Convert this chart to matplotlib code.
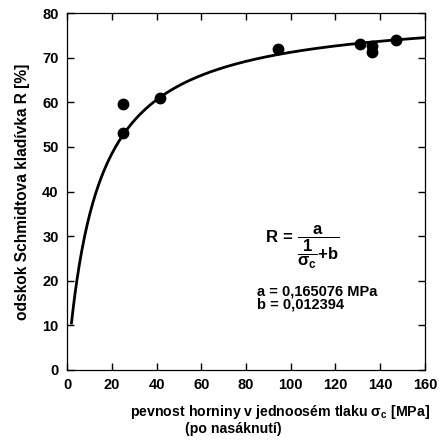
import numpy as np
import matplotlib
matplotlib.use("Agg")
import matplotlib.pyplot as plt

plt.rcParams['font.family'] = ['Liberation Sans', 'DejaVu Sans']
plt.rcParams['font.weight'] = 'bold'
plt.rcParams['mathtext.fontset'] = 'custom'
plt.rcParams['mathtext.rm'] = 'Liberation Sans:bold'
plt.rcParams['mathtext.bf'] = 'Liberation Sans:bold'
plt.rcParams['mathtext.it'] = 'Liberation Sans:bold'

# namerene body
sigma_c = [25, 25, 41.5, 94.5, 131, 136.5, 136.5, 147]
odskok = [59.5, 53, 61, 72, 73, 72.5, 71.3, 74]

# parametry regrese (z grafu)
a = 0.165076
b = 0.012394
x_start, x_end = 2, 160

x_fit = np.linspace(x_start, x_end, 400)
y_fit = 1 / (a / x_fit + b)

fig = plt.figure(figsize=(4.42, 4.41), dpi=100)
ax = fig.add_axes([0.1516, 0.161, 0.8099, 0.8095])

ax.plot(x_fit, y_fit, color='black', lw=2.0)
ax.plot(sigma_c, odskok, 'o', color='black', markersize=7.5)

ax.set_xlim(0, 160)
ax.set_ylim(0, 80)
ax.set_xticks(np.arange(0, 161, 20))
ax.set_yticks(np.arange(0, 81, 10))
ax.tick_params(direction='in', length=5, width=1, top=True, right=True,
               labelsize=10.5, pad=6)
for lab in ax.get_xticklabels() + ax.get_yticklabels():
    lab.set_fontweight('bold')
for s in ax.spines.values():
    s.set_linewidth(0.9)

# popisky os (druhy radek neni vycentrovany pod prvnim)
ax.text(0.595, -0.118, 'pevnost horniny v jednoosém tlaku $\\sigma_\\mathbf{c}$ [MPa]',
        transform=ax.transAxes, fontsize=10.2, fontweight='bold',
        ha='center', va='center')
ax.text(0.464, -0.165, '(po nasáknutí)', transform=ax.transAxes,
        fontsize=10.2, fontweight='bold', ha='center', va='center')
ax.set_ylabel('odskok Schmidtova kladívka R [%]', fontsize=11.2,
              fontweight='bold', labelpad=9)

ax.text(88.5, 27.4, r'$\mathrm{R\,=\,}\dfrac{\mathrm{a}}{\dfrac{\mathrm{1}}{\sigma_\mathrm{c}}\mathrm{+ b}}$',
        fontsize=12, va='center', ha='left')
ax.text(85, 16.05, 'a = 0,165076 MPa\nb = 0,012394', fontsize=10.5,
        fontweight='bold', va='center', linespacing=0.92)

fig.savefig('out.png', dpi=100)
